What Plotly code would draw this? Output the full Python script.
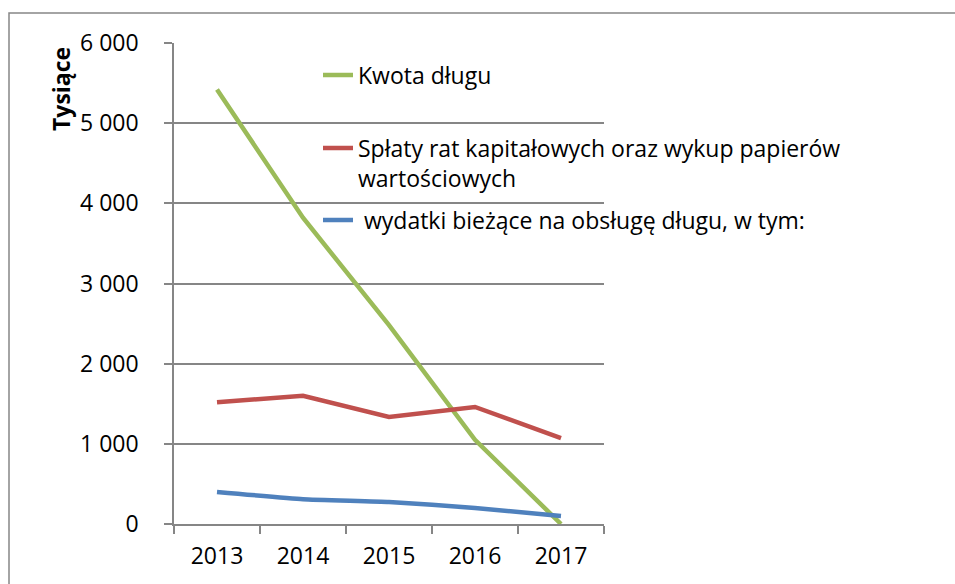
import plotly.graph_objects as go

years = ["2013", "2014", "2015", "2016", "2017"]
kwota_dlugu = [5420, 3820, 2480, 1050, 0]
splaty_rat = [1520, 1600, 1335, 1460, 1070]
wydatki_biezace = [400, 310, 275, 200, 100]

series_names = [
    "Kwota długu",
    "Spłaty rat kapitałowych oraz wykup papierów<br>wartościowych",
    " wydatki bieżące na obsługę długu, w tym:",
]
colors = ["#9BBB59", "#C0504D", "#4F81BD"]
legend_ids = ["legend", "legend2", "legend3"]

W, H = 955, 584
L, R, T, B = 174, 604, 43, 524
pw, ph = R - L, B - T


def px_x(p):
    return (p - L) / pw


def px_y(p):
    return (B - p) / ph


fig = go.Figure()
for i, (vals, name, col, lg) in enumerate(zip([kwota_dlugu, splaty_rat, wydatki_biezace],
                                               series_names, colors, legend_ids)):
    fig.add_trace(go.Scatter(
        x=years, y=vals, mode="lines", name=name, legend=lg,
        line=dict(color=col, width=4.5, shape="spline" if i == 2 else "linear", smoothing=0.4),
    ))

legend_common = dict(xanchor="left", yanchor="middle", bgcolor="rgba(0,0,0,0)",
                     font=dict(size=23), valign="top")
legend_centers = [75, 148, 220]

fig.update_layout(
    width=W, height=H,
    margin=dict(l=L, r=W - R, t=T, b=H - B),
    paper_bgcolor="white", plot_bgcolor="white",
    font=dict(family="Open Sans", size=23, color="black"),
    separators=", ",
    showlegend=True,
    legend=dict(x=px_x(318), y=px_y(legend_centers[0]), **legend_common),
    legend2=dict(x=px_x(318), y=px_y(legend_centers[1] + 15), **legend_common),
    legend3=dict(x=px_x(318), y=px_y(legend_centers[2]), **legend_common),
    xaxis=dict(
        type="category", range=[-0.5, 4.5],
        showline=True, linecolor="#868686", linewidth=1.5,
        ticks="outside", tickson="boundaries", ticklen=8, tickcolor="#868686", tickwidth=1.5,
        showgrid=False, tickfont=dict(size=23), ticklabelstandoff=11,
    ),
    yaxis=dict(
        range=[0, 6000], dtick=1000, tickformat=",d",
        showline=True, linecolor="#868686", linewidth=1.5,
        ticks="outside", ticklen=8, tickcolor="#868686", tickwidth=1.5,
        showgrid=True, gridcolor="#868686", gridwidth=1.5,
        zeroline=False, tickfont=dict(size=23), ticklabelstandoff=21,
    ),
    shapes=[dict(
        type="rect", xref="paper", yref="paper",
        x0=px_x(9), x1=px_x(990), y0=px_y(620), y1=px_y(13),
        line=dict(color="#868686", width=1.5), fillcolor="rgba(0,0,0,0)", layer="below",
    )],
    annotations=[dict(
        text="<b>Tysiące</b>", xref="paper", yref="paper",
        x=px_x(61), y=px_y(89), textangle=-90, showarrow=False,
        font=dict(size=23), xanchor="center", yanchor="middle",
    )],
)

fig.write_html(
    "out.html",
    config={"displayModeBar": False},
    post_script="document.body.style.margin='0';document.body.style.overflow='hidden';",
)
